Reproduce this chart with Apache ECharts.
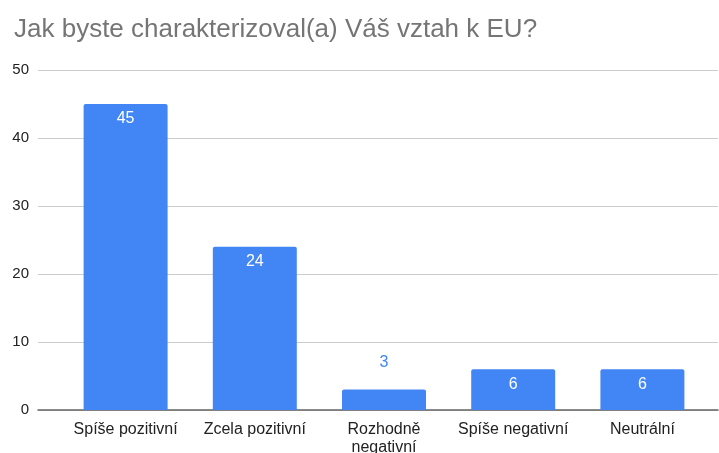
<!DOCTYPE html>
<html>
<head>
<meta charset="utf-8">
<script src="https://cdn.jsdelivr.net/npm/echarts@6/dist/echarts.min.js"></script>
<style>
  html, body { margin: 0; padding: 0; background: #fff; }
  #chart { width: 719px; height: 453px; }
</style>
</head>
<body>
<div id="chart"></div>
<script>
  // data
  const categories = ['Spíše pozitivní', 'Zcela pozitivní', 'Rozhodně\nnegativní', 'Spíše negativní', 'Neutrální'];
  const counts = [45, 24, 3, 6, 6];
  const yTicks = [0, 10, 20, 30, 40, 50];

  const blue = '#4285f4';
  const font = '"Liberation Sans", Arial, sans-serif';

  const dom = echarts.init(document.getElementById('chart'));

  const option = {
    animation: false,
    title: {
      text: 'Jak byste charakterizoval(a) Váš vztah k EU?',
      left: 9,
      top: 12,
      textStyle: {
        color: '#757575',
        fontFamily: font,
        fontSize: 26,
        fontWeight: 'normal'
      }
    },
    grid: [
      // background grid with the gridlines, wider than the bars
      { left: 38, right: 1, top: 70, bottom: 43, outerBoundsMode: 'none' },
      { left: 61, right: 12, top: 70, bottom: 43, outerBoundsMode: 'none' }
    ],
    xAxis: [
      {
        gridIndex: 0,
        type: 'category',
        data: categories,
        axisLine: { show: true, lineStyle: { color: '#666', width: 1.5 } },
        axisTick: { show: false },
        axisLabel: { show: false }
      },
      {
        gridIndex: 1,
        type: 'category',
        data: categories,
        axisLine: { show: false },
        axisTick: { show: false },
        axisLabel: {
          interval: 0,
          hideOverlap: false,
          color: '#222',
          fontFamily: font,
          fontSize: 16,
          margin: 11,
          lineHeight: 18
        }
      }
    ],
    yAxis: [
      {
        gridIndex: 0,
        type: 'value',
        min: yTicks[0],
        max: yTicks[yTicks.length - 1],
        interval: 10,
        axisLine: { show: false },
        axisTick: { show: false },
        splitLine: { lineStyle: { color: '#cccccc' } },
        axisLabel: {
          color: '#222',
          fontFamily: font,
          fontSize: 15,
          margin: 9
        }
      },
      {
        gridIndex: 1,
        type: 'value',
        min: yTicks[0],
        max: yTicks[yTicks.length - 1],
        interval: 10,
        show: false,
        splitLine: { show: false }
      }
    ],
    series: [
      {
        type: 'bar',
        xAxisIndex: 1,
        yAxisIndex: 1,
        barWidth: '65%',
        itemStyle: { color: blue, borderRadius: [2, 2, 0, 0] },
        label: {
          show: true,
          position: 'insideTop',
          distance: 7,
          color: '#fff',
          fontFamily: font,
          fontSize: 16
        },
        data: counts.map(function (v) {
          if (v < 5) {
            // too short for an inside label
            return { value: v, label: { position: 'top', distance: 19, color: blue } };
          }
          return v;
        })
      }
    ]
  };

  dom.setOption(option);
</script>
</body>
</html>
